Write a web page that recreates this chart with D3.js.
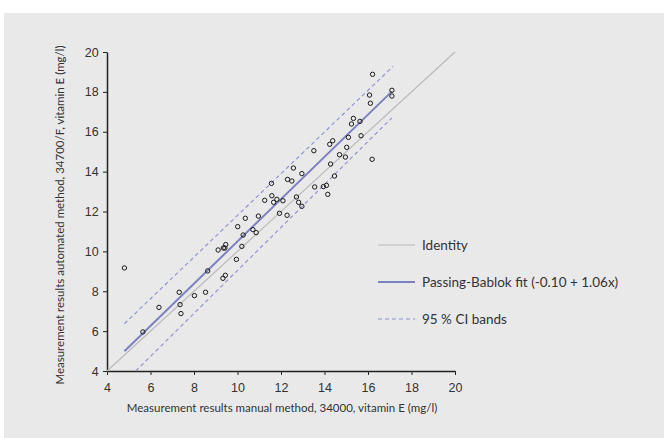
<!DOCTYPE html>
<html>
<head>
<meta charset="utf-8">
<script src="https://cdn.jsdelivr.net/npm/d3@7"></script>
<style>
  body { margin: 0; background: #fff; }
  svg { display: block; font-family: Lato, "Open Sans", sans-serif; }
  .tick text { fill: #333; font-size: 12.5px; }
  .tick line, .domain { stroke: #222; }
</style>
</head>
<body>
<svg id="chart" width="664" height="438"></svg>
<script>
// manual method (x) vs automated method (y), vitamin E mg/l
var manual = [4.80, 5.65, 6.39, 7.32, 7.36, 7.40, 8.02, 8.53, 8.63, 9.11,
  9.35, 9.42, 9.46, 9.33, 9.44, 9.95, 10.01, 10.20, 10.26, 10.36,
  10.71, 10.86, 10.96, 11.25, 11.56, 11.58, 11.66, 11.81, 11.93, 12.09,
  12.28, 12.30, 12.50, 12.57, 12.71, 12.81, 12.96, 12.96, 13.51, 13.55,
  13.95, 14.09, 14.15, 14.24, 14.28, 14.38, 14.46, 14.69, 14.96, 15.02,
  15.10, 15.24, 15.33, 15.63, 15.68, 16.07, 16.11, 16.21, 16.19, 17.10, 17.10];
var automated = [9.17, 5.96, 7.19, 7.95, 7.33, 6.88, 7.78, 7.95, 9.02, 10.07,
  10.17, 10.17, 10.34, 8.65, 8.80, 9.60, 11.24, 10.25, 10.82, 11.66,
  11.09, 10.94, 11.77, 12.56, 13.41, 12.79, 12.46, 12.61, 11.91, 12.54,
  11.81, 13.61, 13.53, 14.18, 12.73, 12.46, 13.90, 12.26, 15.05, 13.23,
  13.25, 13.31, 12.86, 15.37, 14.38, 15.55, 13.78, 14.85, 14.73, 15.22,
  15.72, 16.39, 16.67, 16.52, 15.80, 17.84, 17.43, 18.88, 14.62, 18.08, 17.79];

var identityLine = [[4, 4], [20, 20]];
var fitIntercept = -0.10, fitSlope = 1.06;
var fitRange = [4.8, 17.1];
var ciUpper = [[4.8, 6.37], [17.15, 19.28]];
var ciLower = [[5.32, 4.0], [17.1, 16.7]];
var ticks = [4, 6, 8, 10, 12, 14, 16, 18, 20];
var legendLabels = ["Identity", "Passing-Bablok fit (-0.10 + 1.06x)", "95 % CI bands"];

var svg = d3.select("#chart");

svg.append("rect").attr("x", 4).attr("y", 13).attr("width", 660).attr("height", 425)
  .attr("fill", "#e9e9e9");

var x = d3.scaleLinear().domain([4, 20]).range([107, 455]);
var y = d3.scaleLinear().domain([4, 20]).range([371, 52]);

var line = d3.line().x(d => x(d[0])).y(d => y(d[1]));

svg.append("g")
  .attr("transform", "translate(0,371)")
  .call(d3.axisBottom(x).tickValues(ticks).tickSize(4).tickSizeOuter(0))
  .call(g => g.selectAll(".tick text").attr("dy", "1.1em"));

svg.append("g")
  .attr("transform", "translate(107,0)")
  .call(d3.axisLeft(y).tickValues(ticks).tickSize(4).tickSizeOuter(0))
  .call(g => g.selectAll(".tick text").attr("dx", "-0.1em"));

svg.selectAll(".domain").attr("stroke-width", 1.5);

svg.append("path").datum(identityLine)
  .attr("fill", "none").attr("stroke", "#b9b9b9").attr("stroke-width", 1.2)
  .attr("d", line);

var fitPts = fitRange.map(v => [v, fitIntercept + fitSlope * v]);
svg.append("path").datum(fitPts)
  .attr("fill", "none").attr("stroke", "#7d80c0").attr("stroke-width", 2)
  .attr("d", line);

[ciUpper, ciLower].forEach(function(band) {
  svg.append("path").datum(band)
    .attr("fill", "none").attr("stroke", "#8b8fd2").attr("stroke-width", 1.1)
    .attr("stroke-dasharray", "4,3")
    .attr("d", line);
});

svg.append("g").selectAll("circle")
  .data(manual.map((v, i) => [v, automated[i]]))
  .join("circle")
  .attr("cx", d => x(d[0])).attr("cy", d => y(d[1])).attr("r", 2.2)
  .attr("fill", "none").attr("stroke", "#1a1a1a").attr("stroke-width", 1);

// legend
var legend = svg.append("g").attr("transform", "translate(378,245)");
var styles = [
  {stroke: "#b9b9b9", width: 1.2, dash: null},
  {stroke: "#7d80c0", width: 2, dash: null},
  {stroke: "#8b8fd2", width: 1.1, dash: "4,3"}
];
var rowY = [0, 37, 74];
legendLabels.forEach(function(label, i) {
  var row = legend.append("g").attr("transform", "translate(0," + rowY[i] + ")");
  row.append("line").attr("x1", 0).attr("x2", 37).attr("y1", 0).attr("y2", 0)
    .attr("stroke", styles[i].stroke).attr("stroke-width", styles[i].width)
    .attr("stroke-dasharray", styles[i].dash);
  row.append("text").attr("x", 44).attr("y", 5)
    .attr("fill", "#333").style("font-size", "13.5px").text(label);
});

svg.append("text")
  .attr("x", 282).attr("y", 412).attr("text-anchor", "middle")
  .attr("fill", "#333").style("font-size", "11.5px")
  .text("Measurement results manual method, 34000, vitamin E (mg/l)");

svg.append("text")
  .attr("transform", "translate(64,215) rotate(-90)")
  .attr("text-anchor", "middle")
  .attr("fill", "#333").style("font-size", "11.5px")
  .text("Measurement results automated method, 34700/F, vitamin E (mg/l)");
</script>
</body>
</html>
